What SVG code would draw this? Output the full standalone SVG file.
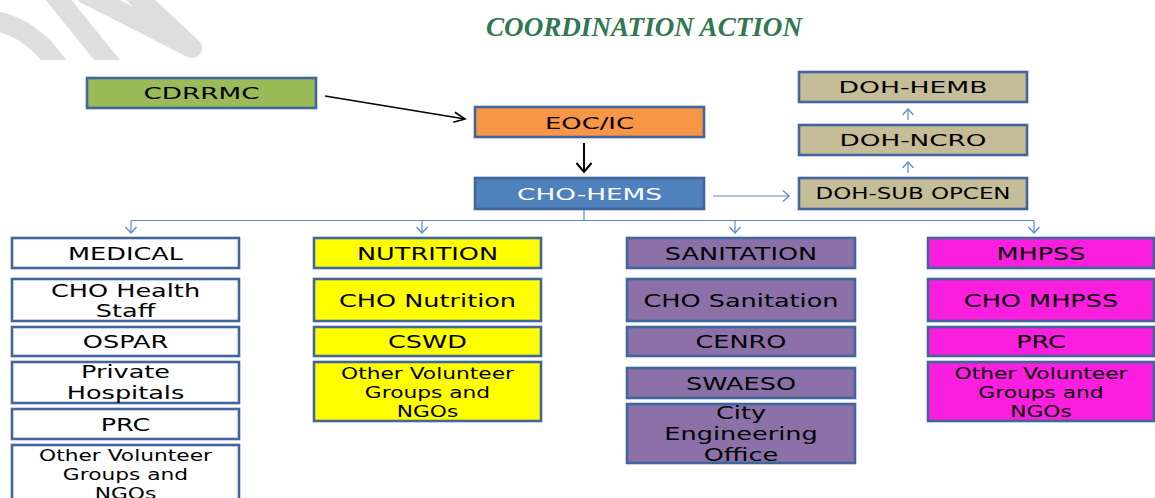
<svg xmlns="http://www.w3.org/2000/svg" width="1155" height="498" viewBox="0 0 1155 498">
<defs>
<style>
.box{stroke:#41669b;stroke-width:2.6}
.t{font-family:"DejaVu Sans",Verdana,sans-serif;font-size:18px;fill:#000;text-anchor:middle}
.s{font-size:16px}
.top{font-family:"DejaVu Sans",Verdana,sans-serif;font-size:16px;fill:#000;text-anchor:middle}
.conn{stroke:#5b8ac6;stroke-width:1.2;fill:none}
.blk{stroke:#000;fill:none}
.wm{stroke:#dedede;stroke-width:20;fill:none;stroke-linecap:round;stroke-linejoin:round}
</style>
<marker id="ba" markerUnits="userSpaceOnUse" markerWidth="14" markerHeight="14" refX="11" refY="7" orient="auto">
<path d="M5,1.5 L11,7 L5,12.5" fill="none" stroke="#5b8ac6" stroke-width="1.3"/>
</marker>
<marker id="ka" markerUnits="userSpaceOnUse" markerWidth="16" markerHeight="14" refX="14" refY="7" orient="auto">
<path d="M3,2 L14,7 L3,12" fill="none" stroke="#000" stroke-width="1.6"/>
</marker>
<marker id="kd" markerUnits="userSpaceOnUse" markerWidth="14" markerHeight="18" refX="11" refY="9" orient="auto">
<path d="M2,1.5 L11,9 L2,16.5" fill="none" stroke="#000" stroke-width="2"/>
</marker>
<clipPath id="wc"><rect x="0" y="0" width="260" height="60"/></clipPath>
</defs>
<rect width="1155" height="498" fill="#fff"/>
<g id="watermark" clip-path="url(#wc)">
<path class="wm" d="M-15,19 Q30,24 58,66" stroke-width="17"/>
<path class="wm" d="M52,-8 L112,66"/>
<path class="wm" d="M86,-6 L192,48 L132,-8"/>
</g>
<text id="title" x="644" y="36" textLength="316" lengthAdjust="spacingAndGlyphs" font-family="'Liberation Serif','Times New Roman',serif" font-size="28" font-weight="bold" font-style="italic" fill="#31774f" text-anchor="middle">COORDINATION ACTION</text>

<g id="connectors">
<line class="blk" x1="325" y1="96" x2="465" y2="119" stroke-width="1.6" marker-end="url(#ka)"/>
<line class="blk" x1="584" y1="143" x2="584" y2="172" stroke-width="2" marker-end="url(#kd)"/>
<line class="conn" x1="713" y1="196" x2="789" y2="196" marker-end="url(#ba)"/>
<line class="conn" x1="908" y1="173" x2="908" y2="162" marker-end="url(#ba)"/>
<line class="conn" x1="908" y1="120" x2="908" y2="109" marker-end="url(#ba)"/>
<polyline class="conn" points="584,209 584,220.5"/>
<line class="conn" x1="131" y1="220.5" x2="1034" y2="220.5"/>
<line class="conn" x1="131" y1="220.5" x2="131" y2="233" marker-end="url(#ba)"/>
<line class="conn" x1="422" y1="220.5" x2="422" y2="233" marker-end="url(#ba)"/>
<line class="conn" x1="735" y1="220.5" x2="735" y2="233" marker-end="url(#ba)"/>
<line class="conn" x1="1034" y1="220.5" x2="1034" y2="233" marker-end="url(#ba)"/>
</g>

<g id="cdrrmc"><rect class="box" x="87" y="78" width="229" height="30" fill="#9bbb59"/><text class="top" x="201.5" y="99" textLength="116" lengthAdjust="spacingAndGlyphs">CDRRMC</text></g>
<g id="eoc"><rect class="box" x="475" y="107" width="229" height="30" fill="#f79646"/><text class="top" x="589.5" y="128.5" textLength="89" lengthAdjust="spacingAndGlyphs">EOC/IC</text></g>
<g id="chohems"><rect class="box" x="475" y="178" width="229" height="31" fill="#4f81bd"/><text class="top" x="589.5" y="200" textLength="145" lengthAdjust="spacingAndGlyphs" fill="#fff" style="fill:#fff">CHO-HEMS</text></g>
<g id="dohhemb"><rect class="box" x="799" y="72" width="228" height="30" fill="#c4bd97"/><text class="top" x="913" y="93" textLength="149" lengthAdjust="spacingAndGlyphs">DOH-HEMB</text></g>
<g id="dohncro"><rect class="box" x="799" y="125" width="228" height="30" fill="#c4bd97"/><text class="top" x="913" y="146" textLength="147" lengthAdjust="spacingAndGlyphs">DOH-NCRO</text></g>
<g id="dohsub"><rect class="box" x="799" y="178" width="228" height="31" fill="#c4bd97"/><text class="top" x="913" y="199" textLength="195" lengthAdjust="spacingAndGlyphs">DOH-SUB OPCEN</text></g>

<g id="medical">
<rect class="box" x="12" y="238" width="227" height="30" fill="#fff"/>
<text class="t" transform="translate(125.5,260) scale(1.42,1)">MEDICAL</text>
</g>
<g id="cho-health-staff">
<rect class="box" x="12" y="279" width="227" height="42" fill="#fff"/>
<text class="t" transform="translate(125.5,297) scale(1.42,1)"><tspan x="0">CHO Health</tspan><tspan x="0" dy="20">Staff</tspan></text>
</g>
<g id="ospar">
<rect class="box" x="12" y="327" width="227" height="29" fill="#fff"/>
<text class="t" transform="translate(125.5,348) scale(1.42,1)">OSPAR</text>
</g>
<g id="private-hospitals">
<rect class="box" x="12" y="362" width="227" height="41" fill="#fff"/>
<text class="t" transform="translate(125.5,378) scale(1.42,1)"><tspan x="0">Private</tspan><tspan x="0" dy="21">Hospitals</tspan></text>
</g>
<g id="prc-medical">
<rect class="box" x="12" y="409" width="227" height="30" fill="#fff"/>
<text class="t" transform="translate(125.5,431) scale(1.42,1)">PRC</text>
</g>
<g id="other-medical">
<rect class="box" x="12" y="445" width="227" height="70" fill="#fff"/>
<text class="t s" transform="translate(125.5,461) scale(1.36,1)"><tspan x="0">Other Volunteer</tspan><tspan x="0" dy="19">Groups and</tspan><tspan x="0" dy="19">NGOs</tspan></text>
</g>

<g id="nutrition">
<rect class="box" x="314" y="238" width="227" height="30" fill="#ffff00"/>
<text class="t" transform="translate(427.5,260) scale(1.42,1)">NUTRITION</text>
</g>
<g id="cho-nutrition">
<rect class="box" x="314" y="279" width="227" height="42" fill="#ffff00"/>
<text class="t" transform="translate(427.5,307) scale(1.42,1)">CHO Nutrition</text>
</g>
<g id="cswd">
<rect class="box" x="314" y="327" width="227" height="29" fill="#ffff00"/>
<text class="t" transform="translate(427.5,348) scale(1.42,1)">CSWD</text>
</g>
<g id="other-nutrition">
<rect class="box" x="314" y="362" width="227" height="59" fill="#ffff00"/>
<text class="t s" transform="translate(427.5,379) scale(1.36,1)"><tspan x="0">Other Volunteer</tspan><tspan x="0" dy="19">Groups and</tspan><tspan x="0" dy="19">NGOs</tspan></text>
</g>

<g id="sanitation">
<rect class="box" x="627" y="238" width="228" height="30" fill="#8b71a8"/>
<text class="t" transform="translate(741,260) scale(1.42,1)">SANITATION</text>
</g>
<g id="cho-sanitation">
<rect class="box" x="627" y="279" width="228" height="42" fill="#8b71a8"/>
<text class="t" transform="translate(741,307) scale(1.42,1)">CHO Sanitation</text>
</g>
<g id="cenro">
<rect class="box" x="627" y="327" width="228" height="29" fill="#8b71a8"/>
<text class="t" transform="translate(741,348) scale(1.42,1)">CENRO</text>
</g>
<g id="swaeso">
<rect class="box" x="627" y="368" width="228" height="30" fill="#8b71a8"/>
<text class="t" transform="translate(741,390) scale(1.42,1)">SWAESO</text>
</g>
<g id="city-engineering">
<rect class="box" x="627" y="404" width="228" height="59" fill="#8b71a8"/>
<text class="t" transform="translate(741,419) scale(1.42,1)"><tspan x="0">City</tspan><tspan x="0" dy="21">Engineering</tspan><tspan x="0" dy="21">Office</tspan></text>
</g>

<g id="mhpss">
<rect class="box" x="928" y="238" width="226" height="30" fill="#fa1edf"/>
<text class="t" transform="translate(1041,260) scale(1.42,1)">MHPSS</text>
</g>
<g id="cho-mhpss">
<rect class="box" x="928" y="279" width="226" height="42" fill="#fa1edf"/>
<text class="t" transform="translate(1041,307) scale(1.42,1)">CHO MHPSS</text>
</g>
<g id="prc-mhpss">
<rect class="box" x="928" y="327" width="226" height="29" fill="#fa1edf"/>
<text class="t" transform="translate(1041,348) scale(1.42,1)">PRC</text>
</g>
<g id="other-mhpss">
<rect class="box" x="928" y="362" width="226" height="59" fill="#fa1edf"/>
<text class="t s" transform="translate(1041,379) scale(1.36,1)"><tspan x="0">Other Volunteer</tspan><tspan x="0" dy="19">Groups and</tspan><tspan x="0" dy="19">NGOs</tspan></text>
</g>
</svg>
